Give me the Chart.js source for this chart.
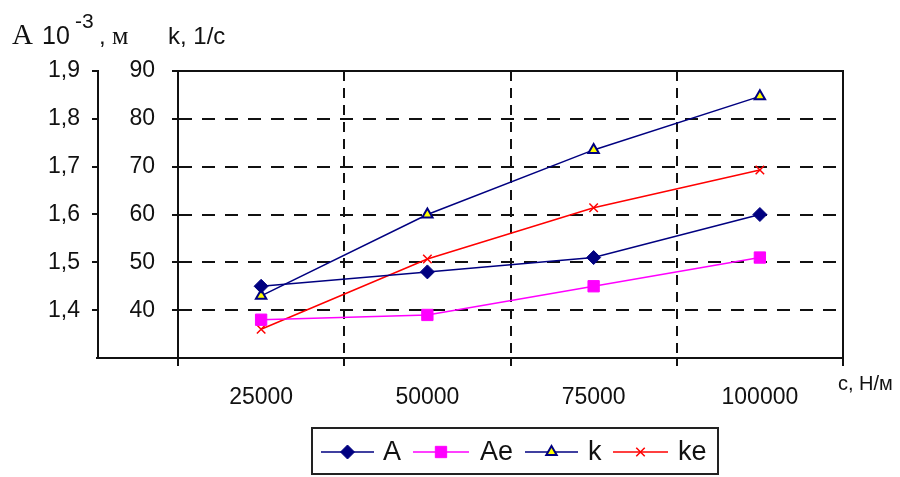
<!DOCTYPE html>
<html>
<head>
<meta charset="utf-8">
<script src="https://cdn.jsdelivr.net/npm/chart.js@4/dist/chart.umd.min.js"></script>
<style>
  html, body { margin: 0; padding: 0; background: #fff; }
  #wrap { width: 900px; height: 477px; position: relative; }
</style>
</head>
<body>
<div id="wrap"><canvas id="chart"></canvas></div>
<script>
// stiffness c, N/m
const categories = ['25000', '50000', '75000', '100000'];
// amplitude A, 10^-3 m
const ampA = [1.45, 1.48, 1.51, 1.60];
const ampAe = [1.38, 1.39, 1.45, 1.51];
// frequency k, 1/s
const freqK = [43, 60, 73.5, 84.7];
const freqKe = [36, 50.7, 61.4, 69.3];

const ampMin = 1.3, ampMax = 1.9, ampStep = 0.1;
const freqMin = 30, freqMax = 90, freqStep = 10;

const NAVY = '#000080';
const FONT = "'Liberation Sans', Arial, sans-serif";

// titles, border, legend - drawn on top of the chart
const extras = {
    id: 'extras',
    afterDraw(chart) {
        const ctx = chart.ctx;
        const area = chart.chartArea;
        ctx.save();

        // plot frame top + right, x-axis extension to the outer axis
        ctx.strokeStyle = '#111';
        ctx.lineWidth = 2;
        ctx.beginPath();
        ctx.moveTo(area.left, area.top);
        ctx.lineTo(area.right, area.top);
        ctx.lineTo(area.right, area.bottom);
        ctx.moveTo(chart.scales.yA.right - 2, area.bottom);
        ctx.lineTo(area.left, area.bottom);
        ctx.stroke();

        // axis titles
        ctx.fillStyle = '#111';
        ctx.textBaseline = 'alphabetic';
        ctx.textAlign = 'left';
        ctx.font = "29px 'Liberation Serif', serif";
        ctx.fillText('А', 12, 44);
        ctx.font = '25px ' + FONT;
        ctx.fillText('10', 42, 44);
        ctx.font = '21px ' + FONT;
        ctx.fillText('-3', 75, 28);
        ctx.font = '24px ' + FONT;
        ctx.fillText(',', 99, 44);
        ctx.font = "26px 'Liberation Serif', serif";
        ctx.fillText('м', 112, 44);
        ctx.font = '24px ' + FONT;
        ctx.fillText('k, 1/с', 168, 44);
        ctx.font = '20px ' + FONT;
        ctx.fillText('с, Н/м', 838, 390);

        // legend
        ctx.strokeStyle = '#222';
        ctx.lineWidth = 2;
        ctx.strokeRect(312, 428, 406, 46);
        const items = [
            { ds: 0, x0: 321, x1: 374, tx: 383, label: 'A' },
            { ds: 1, x0: 413, x1: 469, tx: 480, label: 'Ae' },
            { ds: 2, x0: 525, x1: 578, tx: 588, label: 'k' },
            { ds: 3, x0: 613, x1: 668, tx: 678, label: 'ke' }
        ];
        const ly = 452;
        items.forEach(it => {
            const ds = chart.data.datasets[it.ds];
            ctx.strokeStyle = ds.borderColor;
            ctx.lineWidth = 1.5;
            ctx.beginPath();
            ctx.moveTo(it.x0, ly);
            ctx.lineTo(it.x1, ly);
            ctx.stroke();
            ctx.fillStyle = ds.pointBackgroundColor;
            ctx.strokeStyle = ds.pointBorderColor;
            ctx.lineWidth = ds.pointBorderWidth;
            Chart.helpers.drawPoint(ctx, {
                pointStyle: ds.pointStyle,
                radius: ds.pointRadius,
                borderWidth: ds.pointBorderWidth,
                rotation: 0
            }, (it.x0 + it.x1) / 2, ly);
            ctx.fillStyle = '#111';
            ctx.font = '27px ' + FONT;
            ctx.textBaseline = 'middle';
            ctx.fillText(it.label, it.tx, ly + 1);
        });
        ctx.restore();
    }
};

const fmtComma = v => v.toFixed(1).replace('.', ',');

new Chart(document.getElementById('chart'), {
    type: 'line',
    data: {
        labels: categories,
        datasets: [
            {
                label: 'A', data: ampA, yAxisID: 'yA',
                borderColor: NAVY, borderWidth: 1.5,
                pointStyle: 'rectRot', pointRadius: 7,
                pointBackgroundColor: NAVY, pointBorderColor: NAVY, pointBorderWidth: 1
            },
            {
                label: 'Ae', data: ampAe, yAxisID: 'yA',
                borderColor: '#ff00ff', borderWidth: 1.5,
                pointStyle: 'rect', pointRadius: 8,
                pointBackgroundColor: '#ff00ff', pointBorderColor: '#ff00ff', pointBorderWidth: 1
            },
            {
                label: 'k', data: freqK, yAxisID: 'yK',
                borderColor: NAVY, borderWidth: 1.5,
                pointStyle: 'triangle', pointRadius: 6,
                pointBackgroundColor: '#ffff00', pointBorderColor: NAVY, pointBorderWidth: 2
            },
            {
                label: 'ke', data: freqKe, yAxisID: 'yK',
                borderColor: '#ff0000', borderWidth: 1.5,
                pointStyle: 'crossRot', pointRadius: 6,
                pointBackgroundColor: '#ff0000', pointBorderColor: '#ff0000', pointBorderWidth: 1.5
            }
        ]
    },
    options: {
        responsive: true,
        maintainAspectRatio: false,
        animation: false,
        layout: { padding: { left: 0, right: 57, top: 71, bottom: 0 } },
        elements: { line: { tension: 0 } },
        plugins: {
            legend: { display: false },
            tooltip: { enabled: false }
        },
        scales: {
            x: {
                type: 'category',
                offset: true,
                grid: {
                    offset: true,
                    color: '#111',
                    lineWidth: 2,
                    tickLength: 8,
                    tickBorderDash: []
                },
                border: { display: true, color: '#111', width: 2, dash: [10, 7] },
                ticks: { color: '#111', font: { family: FONT, size: 23 }, padding: 18, maxRotation: 0 },
                afterFit(scale) { scale.height = 119; }
            },
            yA: {
                position: 'left',
                weight: 2,
                min: ampMin, max: ampMax,
                grid: { drawOnChartArea: false, color: '#111', lineWidth: 2, tickLength: 6 },
                border: { display: true, color: '#111', width: 2 },
                ticks: {
                    stepSize: ampStep,
                    color: '#111',
                    font: { family: FONT, size: 23 },
                    padding: 12,
                    callback: v => (Math.abs(v - ampMin) < 1e-6 ? null : fmtComma(v))
                },
                afterFit(scale) { scale.width = 98; }
            },
            yK: {
                position: 'left',
                weight: 1,
                min: freqMin, max: freqMax,
                grid: { color: '#111', lineWidth: 2, tickLength: 6, tickBorderDash: [] },
                border: { display: true, color: '#111', width: 2, dash: [13, 10] },
                ticks: {
                    stepSize: freqStep,
                    color: '#111',
                    font: { family: FONT, size: 23 },
                    padding: 17,
                    callback: v => (v === freqMin ? null : String(v))
                },
                afterFit(scale) { scale.width = 80; }
            }
        }
    },
    plugins: [extras]
});
</script>
</body>
</html>
